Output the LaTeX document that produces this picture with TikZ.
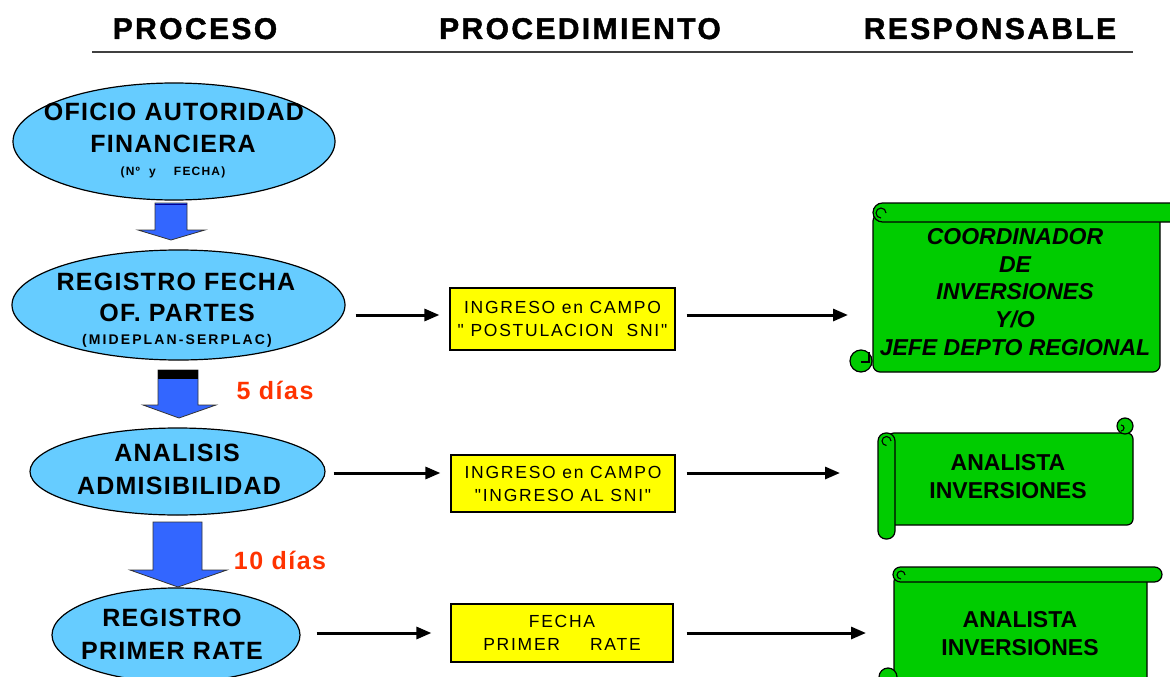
\documentclass[tikz,border=0pt]{standalone}
\usepackage{fontspec}
\setmainfont{Liberation Sans}[Ligatures=TeXOff]
\usetikzlibrary{arrows.meta,shapes.geometric}
\definecolor{procblue}{HTML}{66CCFF}
\definecolor{arrowblue}{HTML}{3366FF}
\definecolor{boxyellow}{HTML}{FFFF00}
\definecolor{scrollgreen}{HTML}{00CC00}
\definecolor{dayred}{HTML}{FF3300}
\newcommand\fsz[2]{\fontsize{#1}{#2}\selectfont}
\begin{document}
\begin{tikzpicture}[x=1pt,y=-1pt,
  hdr/.style={anchor=base, inner sep=0pt, font=\fsz{30}{30}\bfseries\addfontfeature{LetterSpace=8,FakeBold=1.5}},
  ptxt/.style={anchor=base, inner sep=0pt, font=\fsz{25}{25}\bfseries\addfontfeature{LetterSpace=5}},
  psmall/.style={anchor=base, inner sep=0pt, font=\fsz{12}{12}\bfseries\addfontfeature{LetterSpace=10}},
  pmid/.style={anchor=base, inner sep=0pt, font=\fsz{14}{14}\bfseries\addfontfeature{LetterSpace=15}},
  daytxt/.style={anchor=base, inner sep=0pt, text=dayred, font=\fsz{25}{25}\bfseries\addfontfeature{LetterSpace=6}},
  proc/.style={ellipse, draw=black, line width=1.2pt, fill=procblue, inner sep=0pt},
  box/.style={rectangle, draw=black, line width=1.2pt, fill=boxyellow, inner sep=0pt, align=center,
    font=\fsz{17.5}{23}\addfontfeature{LetterSpace=10}},
  sctxt/.style={inner sep=0pt, align=center, font=\fsz{23}{28}\bfseries},
  scrollfill/.style={fill=scrollgreen, draw=black, line width=1.2pt, line join=round},
  curl/.style={draw=black, line width=1.1pt},
  blockarrow/.style={fill=arrowblue, draw=black!80, line width=0.8pt, line join=miter},
  conn/.style={line width=3pt, -{Triangle[length=15pt,width=12pt]}}
]
\useasboundingbox (0,0) rectangle (1170,677);
\clip (0,0) rectangle (1170,677);

% headers
\node[hdr] (h1) at (195,39) {PROCESO};
\node[hdr] (h2) at (580,39) {PROCEDIMIENTO};
\node[hdr] (h3) at (990,39) {RESPONSABLE};
\draw[line width=2.5pt, black!75] (92,52) -- (1133,52);

% process ellipses
\node[proc, minimum width=322, minimum height=117] (e1) at (174,141.5) {};
\node[ptxt] (e1a) at (174,121) {OFICIO AUTORIDAD};
\node[ptxt] (e1b) at (173,152) {FINANCIERA};
\node[psmall] (e1c) at (173,175) {(Nº\ \ y\ \ \ \ FECHA)};

\node[proc, minimum width=333, minimum height=110] (e2) at (178.5,305) {};
\node[ptxt] (e2a) at (176,290) {REGISTRO FECHA};
\node[ptxt] (e2b) at (177,321) {OF. PARTES};
\node[pmid] (e2c) at (177,344) {(MIDEPLAN-SERPLAC)};

\node[proc, minimum width=295, minimum height=87] (e3) at (177.5,471.5) {};
\node[ptxt] (e3a) at (177,461) {ANALISIS};
\node[ptxt] (e3b) at (179,494) {ADMISIBILIDAD};

\node[proc, minimum width=248, minimum height=94] (e4) at (176,635) {};
\node[ptxt] (e4a) at (172,626) {REGISTRO};
\node[ptxt] (e4b) at (172,659) {PRIMER RATE};

% block arrows
\path[blockarrow] (155,203) -- (187,203) -- (187,230) -- (205,230) -- (171,240) -- (138,230) -- (155,230) -- cycle;
\draw[line width=1.5pt, blue!60!black] (155,204.5) -- (187,204.5);
\path[blockarrow] (158,370) -- (198,370) -- (198,405) -- (216,405) -- (179,418) -- (143,405) -- (158,405) -- cycle;
\fill[black] (158,369.5) rectangle (198,379);
\path[blockarrow] (153,522) -- (202,522) -- (202,570) -- (227,570) -- (178,587) -- (130,570) -- (153,570) -- cycle;

\node[daytxt] (d1) at (275,399) {5 días};
\node[daytxt] (d2) at (280,569) {10 días};

% procedure boxes
\node[box, minimum width=225, minimum height=62] (b1) at (562.5,319) {INGRESO en CAMPO\\" POSTULACION\ \ SNI"};
\node[box, minimum width=224, minimum height=57] (b2) at (563,483.5) {INGRESO en CAMPO\\"INGRESO AL SNI"};
\node[box, minimum width=222, minimum height=58] (b3) at (562,633) {FECHA\\PRIMER\hspace{30pt}RATE};

% scroll 1 (horizontal)
\path[scrollfill, rounded corners=7] (873,214) -- (873,372) -- (1160,372) -- (1160,214) -- cycle;
\path[scrollfill] (882.5,222) arc[start angle=90, end angle=270, radius=9.5] -- (1185,203) -- (1185,222) -- cycle;
\draw[curl] (886,213) arc[start angle=0, end angle=-270, radius=5];
\path[scrollfill] (861,361) circle[radius=11];
\draw[curl] (869,352) -- (869,362) -- (861,362);
\node[sctxt, font=\fsz{23}{27.7}\bfseries\itshape] (s1) at (1015,292) {COORDINADOR\\DE\\INVERSIONES\\Y/O\\JEFE DEPTO REGIONAL};

% scroll 2 (vertical)
\path[scrollfill, rounded corners=6] (888,433) -- (1133,433) -- (1133,525) -- (888,525) -- cycle;
\path[scrollfill] (1125,426) circle[radius=8];
\draw[curl] (1121,431) arc[start angle=90, end angle=-90, radius=3];
\path[scrollfill, rounded corners=8] (878,433) rectangle (895,539);
\draw[curl] (891,441) arc[start angle=0, end angle=-270, radius=4.5];
\node[sctxt] (s2) at (1008,477) {ANALISTA\\INVERSIONES};

% scroll 3 (horizontal)
\path[scrollfill, rounded corners=6] (894,575) -- (894,695) -- (1147,695) -- (1147,575) -- cycle;
\path[scrollfill] (900.5,582) arc[start angle=90, end angle=270, radius=7.5] -- (1154.5,567) arc[start angle=-90, end angle=90, radius=7.5] -- cycle;
\draw[curl] (905,575) arc[start angle=0, end angle=-270, radius=4];
\path[scrollfill] (888,677) circle[radius=9];
\node[sctxt] (s3) at (1020,634) {ANALISTA\\INVERSIONES};

% connector end points at the scrolls
\coordinate (s1in) at (848,315);
\coordinate (s2in) at (840,473);
\coordinate (s3in) at (866,633);

% connectors
\draw[conn, shorten <=10pt, shorten >=10pt] ([yshift=-10pt]e2.east) -- ([yshift=4pt]b1.west);
\draw[conn, shorten <=11pt] ([yshift=4pt]b1.east) -- (s1in);
\draw[conn, shorten <=8pt, shorten >=10pt] ([yshift=-1.5pt]e3.east) -- ([yshift=10.5pt]b2.west);
\draw[conn, shorten <=11pt] ([yshift=10.5pt]b2.east) -- (s2in);
\draw[conn, shorten <=16pt, shorten >=19pt] ([yshift=2pt]e4.east) -- (b3.west);
\draw[conn, shorten <=13pt] (b3.east) -- (s3in);
\end{tikzpicture}
\end{document}
